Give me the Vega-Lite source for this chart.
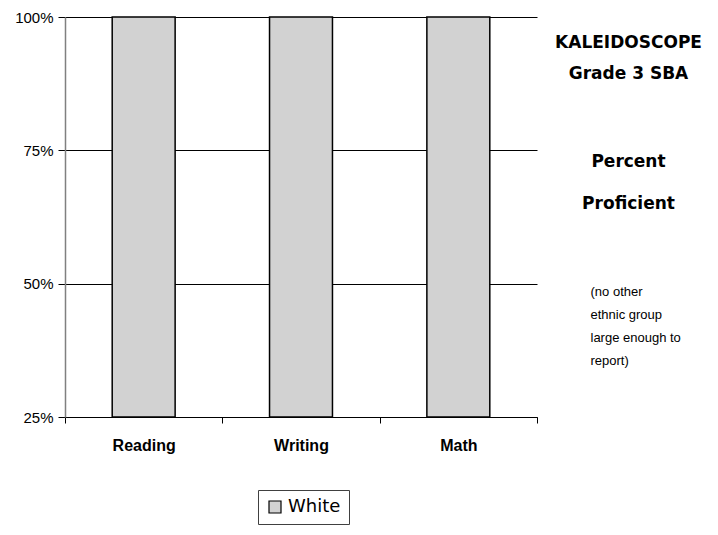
{
  "$schema": "https://vega.github.io/schema/vega-lite/v6.json",
  "background": "#ffffff",
  "padding": {"left": 14, "top": 10, "right": 0, "bottom": 0},
  "spacing": 0,
  "config": {"view": {"stroke": null}},
  "hconcat": [
    {
      "width": 472,
      "height": 400,
      "data": {"values": [
        {"subject": "Reading", "group": "White", "pct": 1.0},
        {"subject": "Writing", "group": "White", "pct": 1.0},
        {"subject": "Math", "group": "White", "pct": 1.0}
      ]},
      "mark": {"type": "bar", "stroke": "#000000", "strokeWidth": 1.5, "width": {"band": 0.4}},
      "encoding": {
        "x": {
          "field": "subject", "type": "nominal", "sort": ["Reading", "Writing", "Math"],
          "scale": {"paddingInner": 0, "paddingOuter": 0},
          "axis": {"title": null, "labelAngle": 0, "labelFont": "Liberation Sans", "labelFontWeight": "bold", "labelFontSize": 16, "labelColor": "#000000", "labelPadding": 14, "tickBand": "extent", "tickSize": 6, "tickColor": "#000000", "domainColor": "#000000", "grid": false}
        },
        "y": {
          "field": "pct", "type": "quantitative",
          "scale": {"domain": [0.25, 1], "zero": false, "nice": false},
          "axis": {"title": null, "format": ".0%", "values": [0.25, 0.5, 0.75, 1], "labelFont": "Liberation Sans", "labelFontSize": 15, "labelColor": "#000000", "labelPadding": 5, "tickSize": 7, "tickColor": "#000000", "domainColor": "#808080", "domainWidth": 1.5, "gridColor": "#000000", "gridOpacity": 1, "gridWidth": 1}
        },
        "y2": {"datum": 0.25},
        "color": {
          "field": "group", "type": "nominal",
          "scale": {"range": ["#d2d2d2"]},
          "legend": {"orient": "none", "legendX": 193, "legendY": 473, "title": null, "symbolType": "square", "symbolSize": 144, "symbolStrokeColor": "#000000", "symbolStrokeWidth": 1.2, "labelFont": "DejaVu Sans", "labelFontSize": 18, "labelColor": "#000000", "strokeColor": "#404040", "padding": 8}
        }
      }
    },
    {
      "width": 181,
      "height": 400,
      "title": {
        "text": ["KALEIDOSCOPE", "Grade 3 SBA"],
        "subtitle": ["Percent", "Proficient"],
        "anchor": "middle",
        "offset": -196,
        "font": "DejaVu Sans", "fontWeight": "bold", "fontSize": 17, "lineHeight": 31, "color": "#000000",
        "subtitleFont": "DejaVu Sans", "subtitleFontWeight": "bold", "subtitleFontSize": 17, "subtitleLineHeight": 42, "subtitleColor": "#000000", "subtitlePadding": 71
      },
      "data": {"values": [{"note": "(no other\nethnic group\nlarge enough to\nreport)"}]},
      "mark": {"type": "text", "align": "left", "baseline": "top", "lineBreak": "\n", "font": "Liberation Sans", "fontSize": 13, "lineHeight": 23, "color": "#000000", "dx": -38, "dy": 69},
      "encoding": {"text": {"field": "note", "type": "nominal"}}
    }
  ]
}
